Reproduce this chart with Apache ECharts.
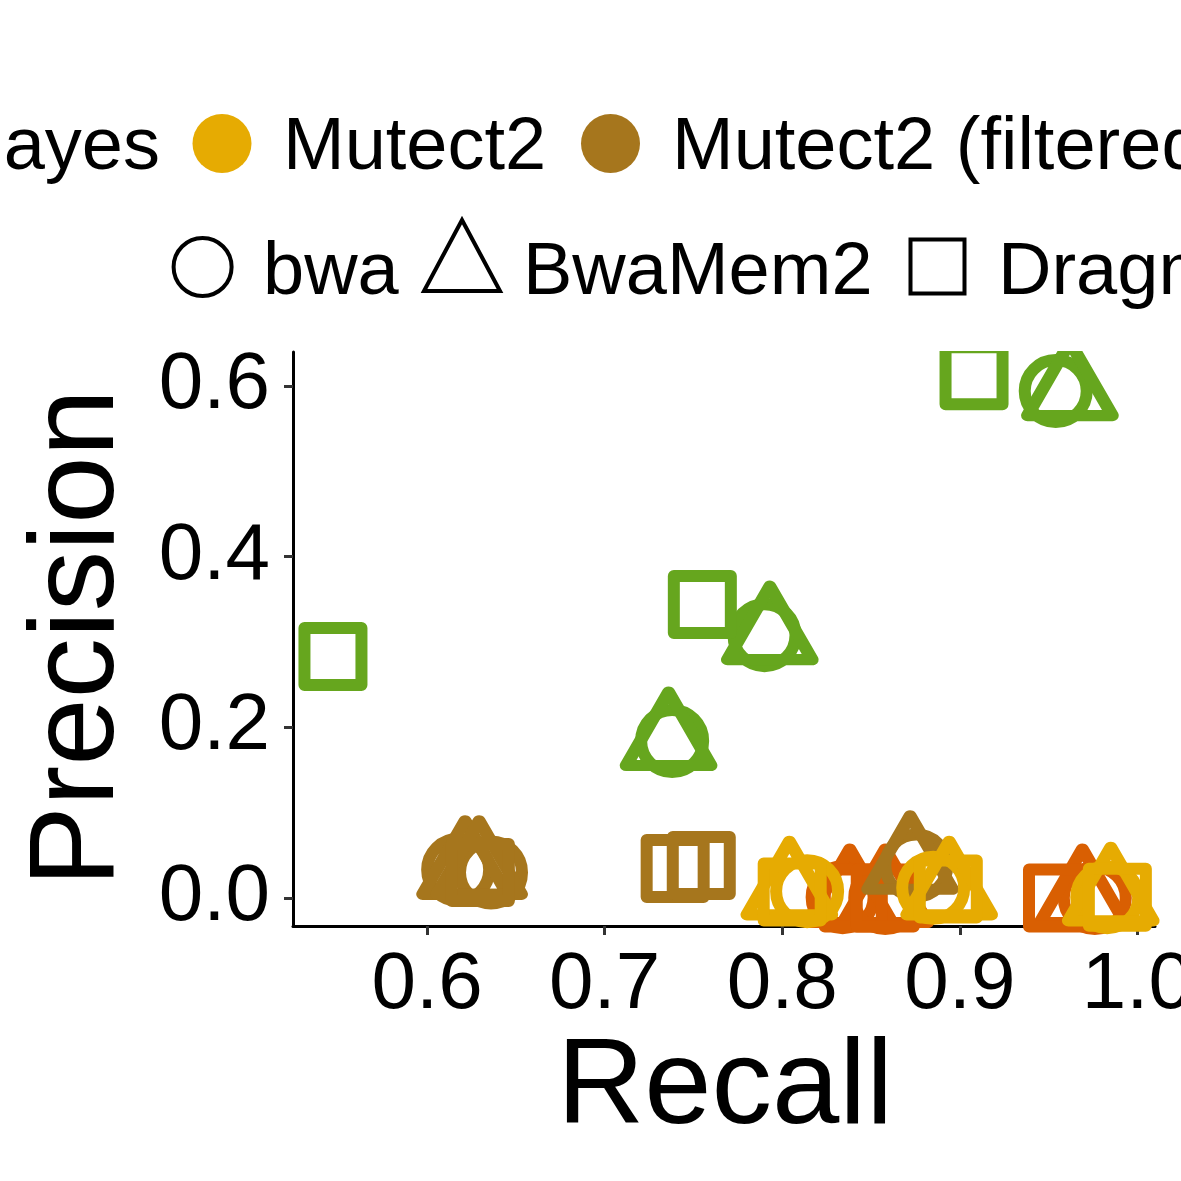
<!DOCTYPE html>
<html><head><meta charset="utf-8">
<script src="https://cdn.jsdelivr.net/npm/echarts@6/dist/echarts.min.js"></script>
<style>html,body{margin:0;padding:0;background:#fff}#c{width:1181px;height:1181px}</style>
</head><body><div id="c"></div>
<script>
// ---- data (recall, precision) ----
const xTicks = [0.6, 0.7, 0.8, 0.9, 1.0];
const yTicks = [0.0, 0.2, 0.4, 0.6];

// FreeBayes (green)
const freebayesBwa      = [[0.954, 0.594], [0.790, 0.308], [0.738, 0.184]];
const freebayesBwaMem2  = [[0.962, 0.594], [0.793, 0.308], [0.736, 0.184]];
const freebayesDragmap  = [[0.908, 0.612], [0.755, 0.344], [0.547, 0.283]];
// orange caller (legend entry not visible)
const orangeBwa         = [[0.976, 0.000], [0.834, 0.001], [0.858, 0.000]];
const orangeBwaMem2     = [[0.969, 0.000], [0.838, 0.000], [0.858, 0.000]];
const orangeDragmap     = [[0.955, 0.000], [0.840, 0.000], [0.858, 0.000]];
// Mutect2 (filtered) (brown)
const m2fBwa            = [[0.6175, 0.033], [0.636, 0.030], [0.8755, 0.038]];
const m2fBwaMem2        = [[0.6214, 0.033], [0.6293, 0.033], [0.872, 0.039]];
const m2fDragmap        = [[0.630, 0.030], [0.7397, 0.0346], [0.7544, 0.038]];
// Mutect2 (yellow)
const m2Bwa             = [[0.814, 0.008], [0.885, 0.012], [0.983, 0.001]];
const m2BwaMem2         = [[0.804, 0.009], [0.894, 0.009], [0.985, 0.002]];
const m2Dragmap         = [[0.8056, 0.007], [0.8935, 0.0105], [0.9887, 0.001]];

const colors = { freebayes: '#66A61E', orange: '#D95F02', m2f: '#A6761D', m2: '#E6AB02' };
const FONT = "'Liberation Sans', Arial, Helvetica, sans-serif";

const SW = 12;           // stroke width of point outlines
const R = 31;            // circle radius
const TR = 49;           // triangle circumradius
const shapes = {
  bwa:     { symbol: 'circle',   symbolSize: 2 * R, symbolOffset: [0, 0] },
  bwamem2: { symbol: 'triangle', symbolSize: [2 * 0.866 * TR, 1.5 * TR], symbolOffset: [0, -TR / 4] },
  dragmap: { symbol: 'rect',     symbolSize: 57, symbolOffset: [0, 0] }
};

function mk(name, data, color, shape) {
  const s = shapes[shape];
  return {
    type: 'scatter', name, data,
    symbol: s.symbol, symbolSize: s.symbolSize, symbolOffset: s.symbolOffset,
    itemStyle: { color: 'rgba(0,0,0,0)', borderColor: color, borderWidth: SW, borderJoin: 'round', opacity: 1 },
    emphasis: { disabled: true },
    clip: true
  };
}

const series = [
  mk('FreeBayes bwa', freebayesBwa, colors.freebayes, 'bwa'),
  mk('FreeBayes BwaMem2', freebayesBwaMem2, colors.freebayes, 'bwamem2'),
  mk('FreeBayes Dragmap', freebayesDragmap, colors.freebayes, 'dragmap'),
  mk('orange bwa', orangeBwa, colors.orange, 'bwa'),
  mk('orange BwaMem2', orangeBwaMem2, colors.orange, 'bwamem2'),
  mk('orange Dragmap', orangeDragmap, colors.orange, 'dragmap'),
  mk('Mutect2 (filtered) bwa', m2fBwa, colors.m2f, 'bwa'),
  mk('Mutect2 (filtered) BwaMem2', m2fBwaMem2, colors.m2f, 'bwamem2'),
  mk('Mutect2 (filtered) Dragmap', m2fDragmap, colors.m2f, 'dragmap'),
  mk('Mutect2 bwa', m2Bwa, colors.m2, 'bwa'),
  mk('Mutect2 BwaMem2', m2BwaMem2, colors.m2, 'bwamem2'),
  mk('Mutect2 Dragmap', m2Dragmap, colors.m2, 'dragmap')
];

const LF = '74px ' + FONT;
function txt(x, y, t, align, font, rot) {
  return { type: 'text', x, y, rotation: rot || 0, z: 100,
    style: { text: t, x: 0, y: 0, font: font || LF, fill: '#000',
             textAlign: align || 'left', align: align || 'left',
             textVerticalAlign: 'middle', verticalAlign: 'middle' } };
}

const graphic = [
  // mask emulating panel clipping above the plotting area
  { type: 'rect', z: 50, shape: { x: 296, y: 305, width: 885, height: 46 }, style: { fill: '#fff' } },
  // colour legend row
  txt(160, 149, 'FreeBayes', 'right'),
  { type: 'circle', shape: { cx: 222, cy: 143.5, r: 29.5 }, style: { fill: colors.m2 } },
  txt(283, 149, 'Mutect2'),
  { type: 'circle', shape: { cx: 610.5, cy: 143.5, r: 29.5 }, style: { fill: colors.m2f } },
  txt(672, 149, 'Mutect2 (filtered)'),
  // shape legend row
  { type: 'circle', shape: { cx: 202.6, cy: 267, r: 29 }, style: { fill: 'none', stroke: '#000', lineWidth: 4 } },
  txt(263, 273.5, 'bwa'),
  { type: 'polygon', shape: { points: [[462, 220], [500, 291], [424, 291]] }, style: { fill: 'none', stroke: '#000', lineWidth: 4 } },
  txt(523, 273.5, 'BwaMem2'),
  { type: 'rect', shape: { x: 910.5, y: 239.5, width: 54, height: 54 }, style: { fill: 'none', stroke: '#000', lineWidth: 4 } },
  txt(998, 273.5, 'Dragmap'),
  // axis titles
  txt(725, 1090, 'Recall', 'center', '121px ' + FONT),
  txt(80, 638, 'Precision', 'center', '121px ' + FONT, Math.PI / 2)
];

const chart = echarts.init(document.getElementById('c'), null, { renderer: 'canvas' });
chart.setOption({
  animation: false,
  backgroundColor: '#fff',
  grid: { left: 293, top: 352, width: 862, height: 574, outerBoundsMode: 'none', containLabel: false },
  xAxis: {
    type: 'value', min: 0.5245, max: 1.0099,
    axisLine: { onZero: false, lineStyle: { color: '#000', width: 3 } },
    axisTick: { customValues: xTicks, length: 9, lineStyle: { color: '#333', width: 3 } },
    axisLabel: { customValues: xTicks, formatter: v => v.toFixed(1), fontSize: 80, fontFamily: FONT, color: '#000', margin: 20 },
    splitLine: { show: false }
  },
  yAxis: {
    type: 'value', min: -0.0328, max: 0.6398,
    axisLine: { onZero: false, lineStyle: { color: '#000', width: 3 } },
    axisTick: { customValues: yTicks, length: 9, lineStyle: { color: '#333', width: 3 } },
    axisLabel: { customValues: yTicks, formatter: v => v.toFixed(1), fontSize: 80, fontFamily: FONT, color: '#000', margin: 23 },
    splitLine: { show: false }
  },
  series,
  graphic
});
</script></body></html>
